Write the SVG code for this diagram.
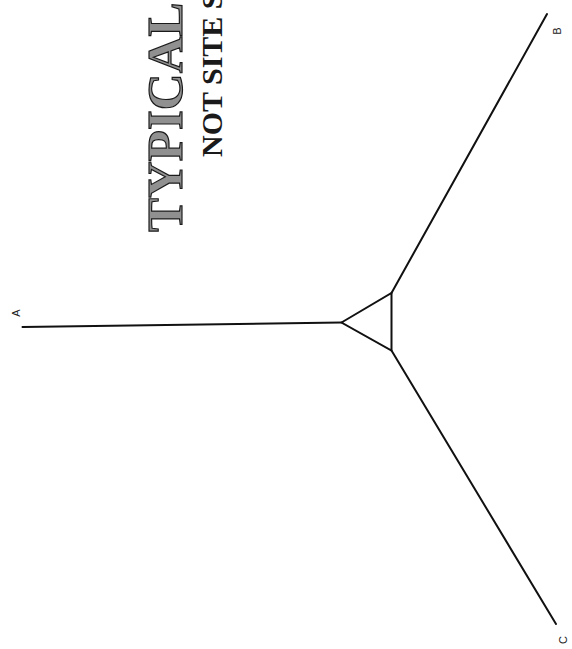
<svg xmlns="http://www.w3.org/2000/svg" width="572" height="649" viewBox="0 0 572 649">
<style>
.ln{fill:none;stroke:#111;stroke-width:2;stroke-linecap:round;stroke-linejoin:miter}
.lbl{font-family:"Liberation Sans",Arial,sans-serif;font-size:11px;fill:#222;text-anchor:middle}
.title{font-family:"Liberation Serif","Times New Roman",serif;font-size:51px;font-weight:bold;fill:#909090;stroke:#1a1a1a;stroke-width:1.2}
.sub{font-family:"Liberation Serif","Times New Roman",serif;font-size:30px;font-weight:bold;fill:#1a1a1a}
</style>
<rect width="572" height="649" fill="#fff"/>
<g id="connectors">
<path class="ln" d="M22.5,327 L341.5,322.5"/>
<path class="ln" d="M391.5,293 L547,14"/>
<path class="ln" d="M391.5,350.5 L556,624"/>
</g>
<g id="hub">
<polygon class="ln" points="341.5,322.5 391.5,293 391.5,350.5"/>
</g>
<g id="A"><text class="lbl" transform="translate(16,313) rotate(-90)" y="4">A</text></g>
<g id="B"><text class="lbl" transform="translate(557,31) rotate(-90)" y="4">B</text></g>
<g id="C"><text class="lbl" transform="translate(563,640) rotate(-90)" y="4">C</text></g>
<g id="title">
<text class="title" transform="translate(182,232) rotate(-90)">TYPICAL</text>
<text class="sub" transform="translate(222,157) rotate(-90)">NOT SITE S</text>
</g>
</svg>
